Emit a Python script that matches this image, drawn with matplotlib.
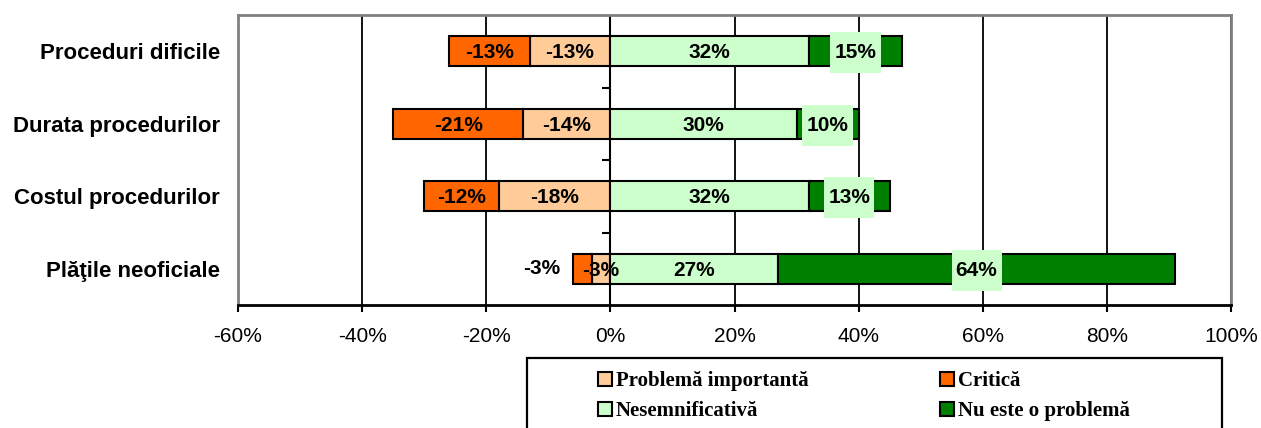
import matplotlib.pyplot as plt
from matplotlib.patches import Rectangle, Patch

# Survey answers per administrative issue (percent of respondents)
categories = ['Proceduri dificile', 'Durata procedurilor', 'Costul procedurilor', 'Plăţile neoficiale']
important = [-13, -14, -18, -3]      # Problemă importantă
critical = [-13, -21, -12, -3]       # Critică
insignificant = [32, 30, 32, 27]     # Nesemnificativă
no_problem = [15, 10, 13, 64]        # Nu este o problemă

x_ticks = [-60, -40, -20, 0, 20, 40, 60, 80, 100]

c_imp = '#FFCC99'
c_crit = '#FF6600'
c_ins = '#CCFFCC'
c_none = '#008000'

fig = plt.figure(figsize=(12.61, 4.28), dpi=100)
ax = fig.add_axes([238 / 1261, 1 - 305 / 428, (1231 - 238) / 1261, (305 - 15) / 428])

y = list(range(len(categories)))
h = 0.41
bar_kw = dict(height=h, edgecolor='black', linewidth=1.5, zorder=3)

b_imp = ax.barh(y, important, color=c_imp, **bar_kw)
b_crit = ax.barh(y, critical, left=important, color=c_crit, **bar_kw)
b_ins = ax.barh(y, insignificant, color=c_ins, **bar_kw)
b_none = ax.barh(y, no_problem, left=insignificant, color=c_none, **bar_kw)

lbl = dict(fontsize=15, fontweight='bold', family='Liberation Sans',
           ha='center', va='center', zorder=5)

for i in y:
    # left side
    ax.text(important[i] / 2, i + 0.02, f'{important[i]}%', **lbl)
    crit_mid = important[i] + critical[i] / 2
    if abs(critical[i]) >= 5:
        ax.text(crit_mid, i + 0.02, f'{critical[i]}%', **lbl)
    else:
        ax.annotate(f'{critical[i]}%', (important[i] + critical[i], i),
                    xytext=(-9, 0), textcoords='offset points',
                    fontsize=15, fontweight='bold', family='Liberation Sans',
                    ha='right', va='center', zorder=5)
    # right side
    ax.text(insignificant[i] / 2, i + 0.02, f'{insignificant[i]}%', **lbl)
    ax.text(insignificant[i] + no_problem[i] / 2, i + 0.02, f'{no_problem[i]}%',
            bbox=dict(boxstyle='square,pad=0.2', facecolor=c_ins, edgecolor='none',
                      mutation_aspect=2.6), **lbl)

ax.set_xlim(-60, 100)
ax.set_ylim(3.5, -0.5)
ax.set_xticks(x_ticks)
ax.set_xticklabels([f'{t}%' for t in x_ticks], fontsize=15, family='Liberation Sans')
ax.set_yticks(y)
ax.set_yticklabels(categories, fontsize=16, fontweight='bold', family='Liberation Sans')
ax.tick_params(axis='y', length=0, pad=13)
ax.tick_params(axis='x', length=5, width=1.5, direction='out', pad=11)

ax.grid(axis='x', color='black', linewidth=1.3, zorder=1)
ax.set_axisbelow(True)

# category axis crossing at zero, with divider ticks between groups
ax.axvline(0, color='black', linewidth=1.5, zorder=2)
ax.plot([0, 0, 0], [0.5, 1.5, 2.5], marker=0, markersize=6, markeredgewidth=1.5,
        color='black', linestyle='none', zorder=2)

for side in ['left', 'top', 'right']:
    ax.spines[side].set_color('#808080')
    ax.spines[side].set_linewidth(2)
ax.spines['bottom'].set_color('black')
ax.spines['bottom'].set_linewidth(2)

# legend box
fig.patches.append(Rectangle((527 / 1261, -0.1), (1222 - 527) / 1261, 0.1 + 1 - 358 / 428,
                             transform=fig.transFigure, facecolor='white',
                             edgecolor='black', linewidth=1.6, zorder=0))

handles = [Patch(facecolor=c_imp, edgecolor='black', linewidth=1.5, label='Problemă importantă'),
           Patch(facecolor=c_ins, edgecolor='black', linewidth=1.5, label='Nesemnificativă'),
           Patch(facecolor=c_crit, edgecolor='black', linewidth=1.5, label='Critică'),
           Patch(facecolor=c_none, edgecolor='black', linewidth=1.5, label='Nu este o problemă')]
fig.legend(handles=handles, ncol=2, loc='upper left',
           bbox_to_anchor=(588 / 1261, 1 - 361 / 428), frameon=False,
           prop=dict(family='Liberation Serif', weight='bold', size=15),
           handlelength=0.65, handleheight=0.65, handletextpad=0.2,
           columnspacing=6.3, labelspacing=0.48, borderpad=0)

fig.savefig('out.png', dpi=100)
